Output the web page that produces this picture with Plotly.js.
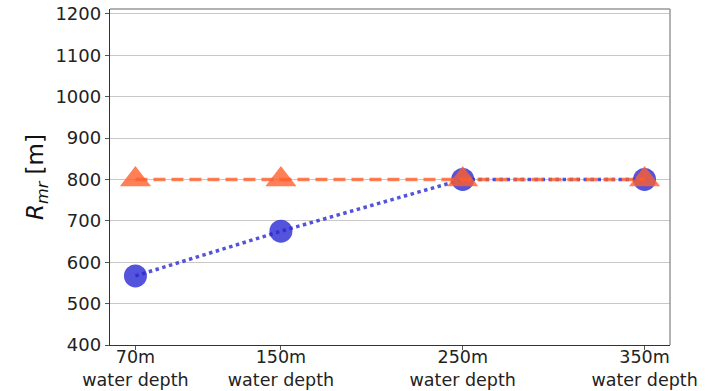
<!DOCTYPE html>
<html><head><meta charset="utf-8">
<script src="https://cdn.plot.ly/plotly-3.0.1.min.js"></script>
<style>html,body{margin:0;padding:0;background:#fff}#chart{width:715px;height:391px}</style>
</head><body><div id="chart"></div>
<script>
const depths = [70, 150, 250, 350];
const tickLabels = ["70m<br>water depth", "150m<br>water depth", "250m<br>water depth", "350m<br>water depth"];
const blueValues = [567, 675, 800, 800];
const orangeValues = [800, 800, 800, 800];

const traces = [
  {x: depths, y: blueValues, mode: 'lines+markers', type: 'scatter',
   line: {color: 'rgba(40,40,210,0.8)', width: 3.5, dash: 'dot'},
   marker: {symbol: 'circle', size: 23, color: 'rgba(40,40,210,0.8)'}},
  {x: depths, y: orangeValues, mode: 'lines+markers', type: 'scatter',
   line: {color: 'rgba(255,95,45,0.8)', width: 3.5, dash: '12px,6px'},
   marker: {symbol: 'triangle-up', size: 27, color: 'rgba(255,95,45,0.8)'}}
];
const layout = {
  width: 715, height: 391,
  margin: {l: 110, r: 45, t: 9, b: 46},
  showlegend: false,
  paper_bgcolor: '#fff', plot_bgcolor: '#fff',
  font: {family: 'DejaVu Sans', size: 18, color: '#222'},
  xaxis: {range: [56, 364], tickvals: depths, ticktext: tickLabels,
    showgrid: false, zeroline: false, showline: true, linecolor: '#333', linewidth: 1.2,
    mirror: false, ticks: 'outside', ticklen: 4, tickcolor: '#555', ticklabelstandoff: -8,
    tickfont: {size: 17.5, family: 'DejaVu Sans', color: '#222'}},
  yaxis: {range: [400, 1212], tickvals: [400,500,600,700,800,900,1000,1100,1200],
    showgrid: true, gridcolor: '#c8c8c8', gridwidth: 1, zeroline: false,
    showline: true, linecolor: '#333', linewidth: 1.2,
    ticks: 'outside', ticklen: 4, tickcolor: '#555',
    tickfont: {size: 18, family: 'DejaVu Sans', color: '#222'},
    title: {text: '<i>R</i><sub><i>mr</i></sub> [m]', font: {size: 23, family: 'DejaVu Sans', color: '#111'}, standoff: 5}},
  shapes: [
    {type: 'line', xref: 'paper', yref: 'paper', x0: 0, x1: 1, y0: 1, y1: 1, line: {color: '#999', width: 1.5}},
    {type: 'line', xref: 'paper', yref: 'paper', x0: 1, x1: 1, y0: 0, y1: 1, line: {color: '#999', width: 1.5}}
  ]
};
Plotly.newPlot('chart', traces, layout, {displayModeBar: false, staticPlot: true});
</script></body></html>
